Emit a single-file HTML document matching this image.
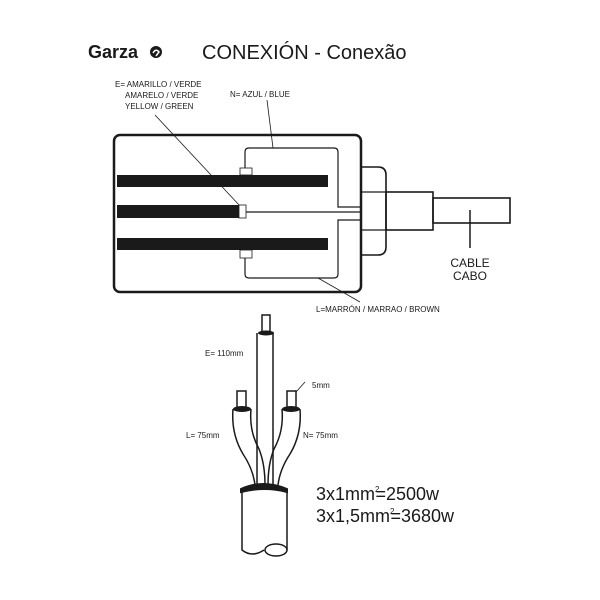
<!DOCTYPE html>
<html><head><meta charset="utf-8"><style>
html,body{margin:0;padding:0;background:#fff}
svg{display:block}
text{font-family:"Liberation Sans",sans-serif;fill:#1a1a1a}
</style></head><body>
<svg width="600" height="600" viewBox="0 0 600 600" xmlns="http://www.w3.org/2000/svg">
<text x="88" y="58" font-size="18" font-weight="bold">Garza</text>
<circle cx="156" cy="52" r="6" fill="#1a1a1a"/>
<path d="M153 53 q3 -5 6 -1 l-3 4" stroke="#fff" stroke-width="1.5" fill="none"/>
<text x="202" y="59" font-size="20">CONEXIÓN - Conexão</text>

<g fill="none" stroke="#1a1a1a">
<rect x="114" y="135" width="247" height="157" rx="6" stroke-width="2.5"/>
<path d="M245 168 V152 q0-4 4-4 H334 q4 0 4 4 V207 H360" stroke-width="1.2"/>
<path d="M245 258 V274 q0 4 4 4 H334 q4 0 4-4 V220 H360" stroke-width="1.2"/>
<path d="M246 212 H360" stroke-width="1.2"/>
<path d="M361 167 H378 q8 0 8 8 V247 q0 8 -8 8 H361" stroke-width="1.6"/>
<rect x="386" y="192" width="47" height="38" stroke-width="1.6"/>
<rect x="433" y="198" width="77" height="25" stroke-width="1.6"/>
<path d="M361 192 H386 M361 230 H386" stroke-width="1.2"/>
<path d="M470 210 V248" stroke-width="1.5"/>
<path d="M155 115 L240 206" stroke-width="0.8"/>
<path d="M267 100 L273 148" stroke-width="0.8"/>
<path d="M318 278 L360 302" stroke-width="0.8"/>
</g>
<rect x="117" y="175" width="211" height="12" fill="#1a1a1a"/>
<rect x="117" y="205" width="122" height="13" fill="#1a1a1a"/>
<rect x="117" y="238" width="211" height="12" fill="#1a1a1a"/>
<rect x="240" y="168" width="12" height="7" fill="#fff" stroke="#1a1a1a" stroke-width="0.8"/>
<rect x="239" y="205" width="7" height="13" fill="#fff" stroke="#1a1a1a" stroke-width="0.8"/>
<rect x="240" y="250" width="12" height="8" fill="#fff" stroke="#1a1a1a" stroke-width="0.8"/>

<g font-size="8">
<text x="115" y="87">E= AMARILLO / VERDE</text>
<text x="125" y="98">AMARELO / VERDE</text>
<text x="125" y="109">YELLOW / GREEN</text>
<text x="230" y="97">N= AZUL / BLUE</text>
<text x="316" y="312">L=MARRÓN / MARRAO / BROWN</text>
<text x="205" y="356">E= 110mm</text>
<text x="312" y="388">5mm</text>
<text x="186" y="438">L= 75mm</text>
<text x="303" y="438">N= 75mm</text>
</g>
<text x="470" y="267" font-size="12" text-anchor="middle">CABLE</text>
<text x="470" y="280" font-size="12" text-anchor="middle">CABO</text>

<g fill="none" stroke="#1a1a1a" stroke-width="1.5">
<rect x="262" y="315" width="8" height="17" fill="#fff"/>
<rect x="237" y="391" width="9" height="17" fill="#fff"/>
<rect x="287" y="391" width="9" height="17" fill="#fff"/>
<path d="M257 333 V485 M273 333 V485"/>
<path d="M233 409 q-2 25 10 45 q10 15 12 31 M251 409 q-2 22 8 40 q6 15 6 36"/>
<path d="M300 409 q2 25 -10 45 q-10 15 -12 31 M282 409 q2 22 -8 40 q-6 15 -6 36"/>
<path d="M305 382 L296 392" stroke-width="0.8"/>
<path d="M242 490 V550 q10 8 22 0 M287 490 V550"/>
<ellipse cx="276" cy="550" rx="11" ry="6"/>
</g>
<ellipse cx="266" cy="333" rx="8" ry="2.5" fill="#1a1a1a"/>
<ellipse cx="242" cy="409" rx="9" ry="3" fill="#1a1a1a"/>
<ellipse cx="291" cy="409" rx="9" ry="3" fill="#1a1a1a"/>
<path d="M241 489 q22 -10 46 0 v3 q-22 -6 -46 0 z" fill="#1a1a1a" stroke="#1a1a1a" stroke-width="2"/>

<text x="316" y="500" font-size="18">3x1mm<tspan dy="-8" font-size="8">2</tspan><tspan dy="8" dx="-4">=2500w</tspan></text>
<text x="316" y="522" font-size="18">3x1,5mm<tspan dy="-8" font-size="8">2</tspan><tspan dy="8" dx="-4">=3680w</tspan></text>
</svg>
</body></html>
